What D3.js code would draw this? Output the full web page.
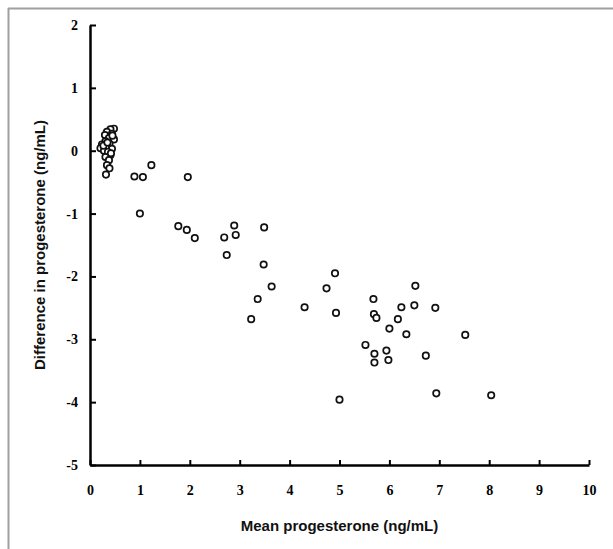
<!DOCTYPE html>
<html>
<head>
<meta charset="utf-8">
<script src="https://cdn.jsdelivr.net/npm/d3@7"></script>
<style>
  html, body { margin: 0; padding: 0; background: #fff; }
  svg { display: block; }
</style>
</head>
<body>
<svg id="chart" width="613" height="549"></svg>
<script>
// Data
const meanProgesterone = [
  0.48, 0.41, 0.34, 0.44, 0.30, 0.38, 0.48, 0.31, 0.24, 0.39, 0.32, 0.21, 0.44,
  0.28, 0.36, 0.41, 0.31, 0.38, 0.34, 0.39, 0.32, 0.27, 0.45, 0.35, 0.42,
  0.89, 1.06, 1.23, 1.96, 1.00, 1.77, 1.94, 2.10, 2.69, 2.89, 2.92, 3.49, 2.74, 3.48,
  3.64, 3.36, 3.23,
  4.91, 4.74, 4.30, 4.93, 5.68, 5.69, 5.74, 6.00, 6.24, 6.17, 6.50, 6.52, 6.34,
  5.52, 5.70, 5.70, 5.94, 5.98, 5.00,
  6.92, 7.52, 6.73, 6.94, 8.04
];
const diffProgesterone = [
  0.35, 0.34, 0.30, 0.27, 0.25, 0.20, 0.18, 0.15, 0.10, 0.11, 0.06, 0.04, 0.03,
  0.00, -0.02, -0.07, -0.10, -0.15, -0.23, -0.28, -0.38, 0.08, 0.24, 0.13, -0.04,
  -0.41, -0.42, -0.23, -0.42, -1.00, -1.20, -1.26, -1.39, -1.38, -1.19, -1.34, -1.22, -1.66, -1.81,
  -2.16, -2.36, -2.68,
  -1.95, -2.19, -2.49, -2.58, -2.36, -2.60, -2.66, -2.83, -2.49, -2.68, -2.46, -2.15, -2.92,
  -3.09, -3.23, -3.37, -3.18, -3.33, -3.96,
  -2.50, -2.93, -3.26, -3.86, -3.89
];
const xTicks = [0, 1, 2, 3, 4, 5, 6, 7, 8, 9, 10];
const yTicks = [2, 1, 0, -1, -2, -3, -4, -5];
const xTitle = "Mean progesterone (ng/mL)";
const yTitle = "Difference in progesterone (ng/mL)";

const svg = d3.select("#chart");

// frame (top and left border)
svg.append("line").attr("x1", 8).attr("x2", 613).attr("y1", 8.5).attr("y2", 8.5)
  .attr("stroke", "#a0a0a0").attr("stroke-width", 2);
svg.append("line").attr("x1", 8.5).attr("x2", 8.5).attr("y1", 8).attr("y2", 549)
  .attr("stroke", "#a0a0a0").attr("stroke-width", 2);

const x = d3.scaleLinear().domain([0, 10]).range([90, 589]);
const y = d3.scaleLinear().domain([-5, 2]).range([465, 25]);

const tickFont = "'Liberation Serif', 'Times New Roman', serif";
const titleFont = "'Liberation Sans', Arial, sans-serif";
const fmt = d => String(d); // plain hyphen for negatives, as in the reference

// x axis (ticks pointing up, inside)
const xAxis = svg.append("g").attr("transform", `translate(0,${y(-5)})`)
  .call(d3.axisBottom(x).tickValues(xTicks).tickSizeInner(-5).tickSizeOuter(0).tickPadding(20).tickFormat(fmt));
xAxis.select(".domain").attr("stroke", "#000").attr("stroke-width", 2.5);
xAxis.selectAll(".tick line").attr("stroke", "#000").attr("stroke-width", 2);
xAxis.selectAll(".tick text").attr("font-family", tickFont).attr("font-weight", "bold")
  .attr("font-size", 14).attr("fill", "#000");

// y axis (ticks pointing right, inside)
const yAxis = svg.append("g").attr("transform", `translate(${x(0)},0)`)
  .call(d3.axisLeft(y).tickValues(yTicks).tickSizeInner(-6).tickSizeOuter(0).tickPadding(12).tickFormat(fmt));
yAxis.select(".domain").attr("stroke", "#000").attr("stroke-width", 2.5);
yAxis.selectAll(".tick line").attr("stroke", "#000").attr("stroke-width", 2);
yAxis.selectAll(".tick text").attr("font-family", tickFont).attr("font-weight", "bold")
  .attr("font-size", 14).attr("fill", "#000");

// points
const pts = meanProgesterone.map((m, i) => ({ m, d: diffProgesterone[i] }));
svg.append("g").selectAll("circle").data(pts).join("circle")
  .attr("cx", p => x(p.m)).attr("cy", p => y(p.d)).attr("r", 3.2)
  .attr("fill", "#fff").attr("stroke", "#111").attr("stroke-width", 1.7);

// titles
svg.append("text").attr("x", (x(0) + x(10)) / 2).attr("y", 531)
  .attr("text-anchor", "middle").attr("font-family", titleFont).attr("font-weight", "bold")
  .attr("font-size", 15).attr("fill", "#111").text(xTitle);
svg.append("text").attr("transform", `translate(45,${(y(2) + y(-5)) / 2}) rotate(-90)`)
  .attr("text-anchor", "middle").attr("font-family", titleFont).attr("font-weight", "bold")
  .attr("font-size", 15).attr("fill", "#111").text(yTitle);
</script>
</body>
</html>
